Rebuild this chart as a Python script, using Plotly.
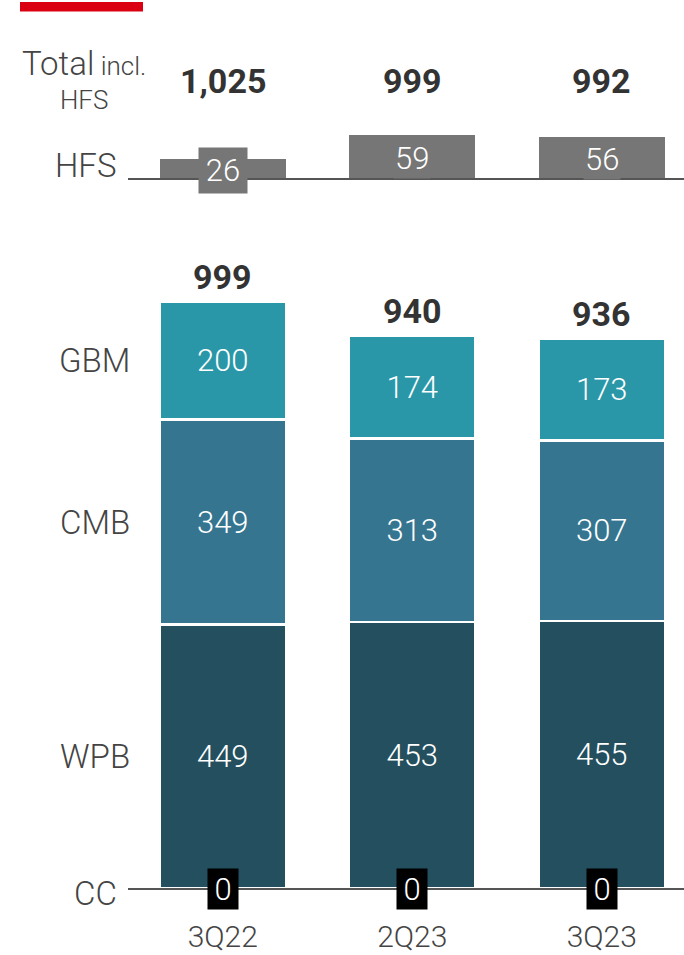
import plotly.graph_objects as go

quarters = ["3Q22", "2Q23", "3Q23"]
wpb = [449, 453, 455]
cmb = [349, 313, 307]
gbm = [200, 174, 173]
cc = [0, 0, 0]
hfs = [26, 59, 56]
totals = [999, 940, 936]
totals_incl_hfs = ["1,025", "999", "992"]

W, H = 684, 955
FONT = "Roboto"
LABEL_COL = "#444444"
C_WPB, C_CMB, C_GBM, C_HFS = "#234F5E", "#357590", "#2A97A8", "#767676"

main_scale = 0.587   # px per unit
hfs_scale = 0.73

def px(x):
    return x / W

def py(y):
    return 1 - y / H

fig = go.Figure()

for name, vals, col in [("WPB", wpb, C_WPB), ("CMB", cmb, C_CMB), ("GBM", gbm, C_GBM)]:
    fig.add_trace(go.Bar(
        x=quarters, y=vals, name=name, marker=dict(color=col, line=dict(color="white", width=2.5)),
        text=[str(v) for v in vals], textposition="inside", insidetextanchor="middle",
        textfont=dict(family=FONT, size=31, color="white", weight=300),
        xaxis="x", yaxis="y", showlegend=False, hoverinfo="skip",
    ))

fig.add_trace(go.Bar(
    x=quarters, y=hfs, name="HFS", marker=dict(color=C_HFS, line=dict(width=0)),
    xaxis="x2", yaxis="y2", showlegend=False, hoverinfo="skip",
))

x_dom = [px(128), 1]
x_rng = [-0.5, 2.434]

fig.update_layout(
    width=W, height=H, margin=dict(l=0, r=0, t=0, b=0, autoexpand=False),
    paper_bgcolor="white", plot_bgcolor="white",
    barmode="stack", bargap=0.335,
    font=dict(family=FONT, color=LABEL_COL),
    xaxis=dict(domain=x_dom, range=x_rng, anchor="y", showline=True, linecolor="#555555",
               linewidth=1.5, ticks="outside", ticklen=21, tickcolor="rgba(0,0,0,0)",
               tickfont=dict(family=FONT, size=30, color=LABEL_COL, weight=300),
               showgrid=False, zeroline=False, fixedrange=True, automargin=False),
    yaxis=dict(domain=[py(888), py(250)], range=[0, 638 / main_scale], visible=False,
               showgrid=False, zeroline=False, automargin=False),
    xaxis2=dict(domain=x_dom, range=x_rng, anchor="y2", showline=True, linecolor="#555555",
                linewidth=1.5, showticklabels=False, ticks="", showgrid=False, zeroline=False,
                automargin=False),
    yaxis2=dict(domain=[py(178), py(110)], range=[0, 68 / hfs_scale], visible=False,
                showgrid=False, zeroline=False, automargin=False),
    shapes=[dict(type="rect", xref="paper", yref="paper", x0=px(20), x1=px(143),
                 y0=py(11.5), y1=py(2), fillcolor="#DB0011", line=dict(width=0))],
)

ann = []
# totals incl HFS
for q, t in zip(quarters, totals_incl_hfs):
    ann.append(dict(x=q, xref="x", y=py(81), yref="paper", text=f"<b>{t}</b>", showarrow=False,
                    font=dict(family=FONT, size=34, color="#333333"), yanchor="middle"))
# main totals
for q, t in zip(quarters, totals):
    ann.append(dict(x=q, xref="x", y=t, yref="y", text=f"<b>{t}</b>", showarrow=False,
                    font=dict(family=FONT, size=34, color="#333333"), yanchor="middle", yshift=25))
# HFS value labels
for q, v in zip(quarters, hfs):
    small = v < 40
    ann.append(dict(x=q, xref="x2", y=v / 2, yref="y2", text=str(v), showarrow=False,
                    font=dict(family=FONT, size=31, color="white", weight=300),
                    bgcolor=C_HFS, width=46 if small else None, height=43 if small else None,
                    yanchor="middle", yshift=-2))
# CC boxes
for q, v in zip(quarters, cc):
    ann.append(dict(x=q, xref="x", y=v, yref="y", text=str(v), showarrow=False,
                    font=dict(family=FONT, size=31, color="white", weight=300),
                    bgcolor="black", width=28, height=38, yanchor="middle", yshift=-1))
# row labels
mid_wpb = wpb[0] / 2
mid_cmb = wpb[0] + cmb[0] / 2
mid_gbm = wpb[0] + cmb[0] + gbm[0] / 2
for txt, yv in [("GBM", mid_gbm), ("CMB", mid_cmb), ("WPB", mid_wpb)]:
    ann.append(dict(x=px(132), xref="paper", y=yv, yref="y", text=txt, showarrow=False,
                    xanchor="right", yanchor="middle",
                    font=dict(family=FONT, size=33, color=LABEL_COL, weight=300)))
ann.append(dict(x=px(119), xref="paper", y=0, yref="y", text="CC", showarrow=False,
                xanchor="right", yanchor="middle", yshift=-5,
                font=dict(family=FONT, size=33, color=LABEL_COL, weight=300)))
ann.append(dict(x=px(119), xref="paper", y=0, yref="y2", text="HFS", showarrow=False,
                xanchor="right", yanchor="middle", yshift=13,
                font=dict(family=FONT, size=33, color=LABEL_COL, weight=300)))
ann.append(dict(x=px(84), xref="paper", y=py(79), yref="paper",
                text="<span style='font-size:33px'>Total</span> incl.<br>HFS",
                showarrow=False, xanchor="center", yanchor="middle", align="center",
                font=dict(family=FONT, size=26, color=LABEL_COL, weight=300)))
fig.update_layout(annotations=ann)

fig.write_html(
    "out.html",
    config={"displayModeBar": False},
    post_script="document.body.style.margin='0';document.body.style.overflow='hidden';",
)
